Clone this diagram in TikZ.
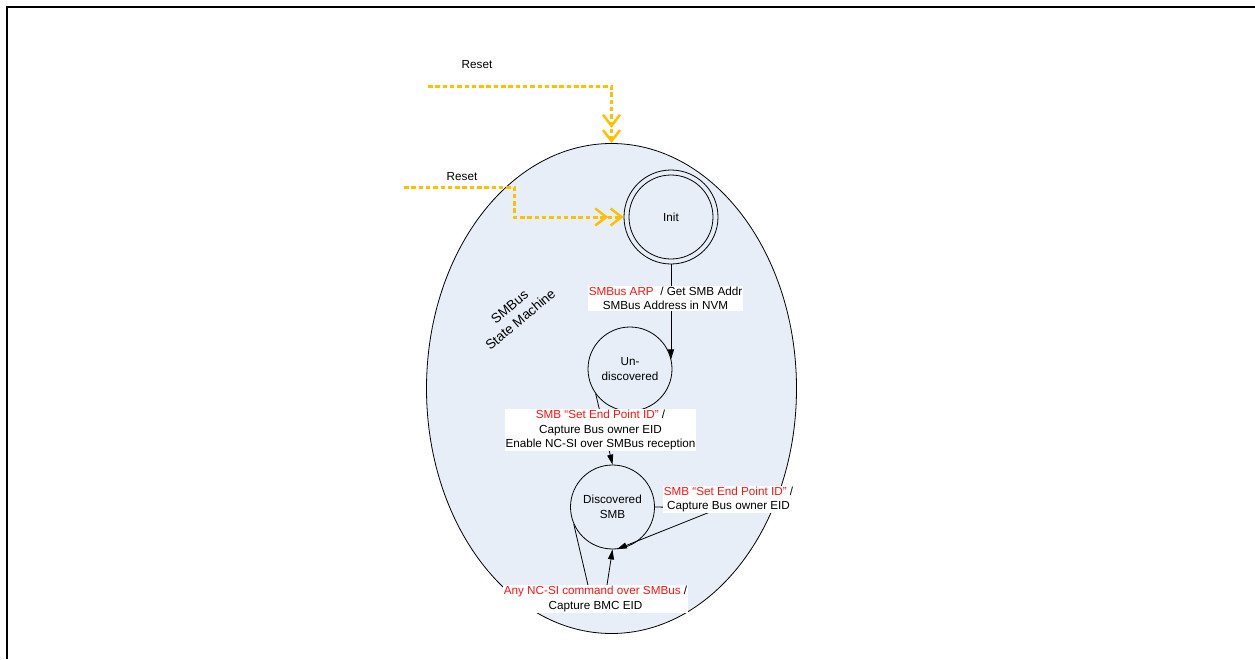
\documentclass[tikz,border=0pt]{standalone}
\usepackage{fontspec}
\setmainfont{Liberation Sans}
\usetikzlibrary{arrows.meta,shapes.geometric}
\definecolor{smfill}{RGB}{232,238,247}
\definecolor{rstorange}{RGB}{255,192,0}
\definecolor{lblred}{RGB}{255,20,20}
\tikzset{
  txt/.style={font=\fontsize{11.7}{14.5}\selectfont, align=center},
  state/.style={circle, draw=black, line width=0.8pt, minimum size=84pt, inner sep=0pt, txt},
  lbl/.style={fill=white, inner xsep=1pt, inner ysep=1pt, txt},
  trans/.style={draw=black, line width=0.8pt, -{Triangle[length=10pt,width=6pt]}},
  rst/.style={draw=rstorange, line width=3pt, dash pattern=on 4.5pt off 2.8pt,
    -{Straight Barb[length=11pt,width=17pt,line width=2.5pt,sep=1pt] Straight Barb[length=11pt,width=17pt,line width=2.5pt]}},
}
\begin{document}
\begin{tikzpicture}[x=1pt,y=-1pt]
\useasboundingbox (0,0) rectangle (1255,659);
% frame
\draw[line width=2pt] (1255,6.5) -- (6.5,6.5) -- (6.5,659);
% state machine ellipse
\node[ellipse, draw=black, line width=0.8pt, fill=smfill, minimum width=370pt, minimum height=490pt, inner sep=0pt] (sm) at (611.5,388.5) {};
\node[align=center, font=\fontsize{13.5}{17}\selectfont, rotate=40] (smtitle) at (515,313) {SMBus\\State Machine};
% states
\node[circle, draw=black, line width=0.8pt, minimum size=94pt, inner sep=0pt] (init) at (671,217) {};
\node[state] (initin) at (671,217) {Init};
\node[state] (undisc) at (630,369) {Un-\\discovered};
\node[state] (disc) at (612.5,507) {Discovered\\SMB};
% reset arrows
\node[txt] (reset1) at (477,65) {Reset};
\node[txt] (reset2) at (462,177) {Reset};
\coordinate (r1) at (428,86);
\coordinate (r2) at (404,187);
\draw[rst] (r1) -| (sm.north);
\draw[rst] (r2) -- ++(110,0) |- (init.west);
% transitions
\draw[trans] (init.south) -- (init.south |- undisc.13);
\draw[trans] (undisc.216) -- (disc.north);
\coordinate (rc) at (720,508);
\draw[trans] (disc.east) -- (rc) -- (disc.-84);
\coordinate (bl) at (591,598);
\coordinate (br) at (605,598);
\draw[trans] (disc.204) -- (bl) -- (br) -- (disc.south);
% labels
\node[lbl] (l1) at (665.5,298.5) {\textcolor{lblred}{SMBus ARP}\ \ / Get SMB Addr\\SMBus Address in NVM};
\node[lbl] (l2) at (600.5,430) {\textcolor{lblred}{SMB “Set End Point ID”} /\\Capture Bus owner EID\\Enable NC-SI over SMBus reception};
\node[lbl] (l3) at (728.5,499.5) {\textcolor{lblred}{SMB “Set End Point ID”} /\\Capture Bus owner EID};
\node[lbl] (l4) at (595.5,599) {\textcolor{lblred}{Any NC-SI command over SMBus} /\\Capture BMC EID};
\end{tikzpicture}
\end{document}
